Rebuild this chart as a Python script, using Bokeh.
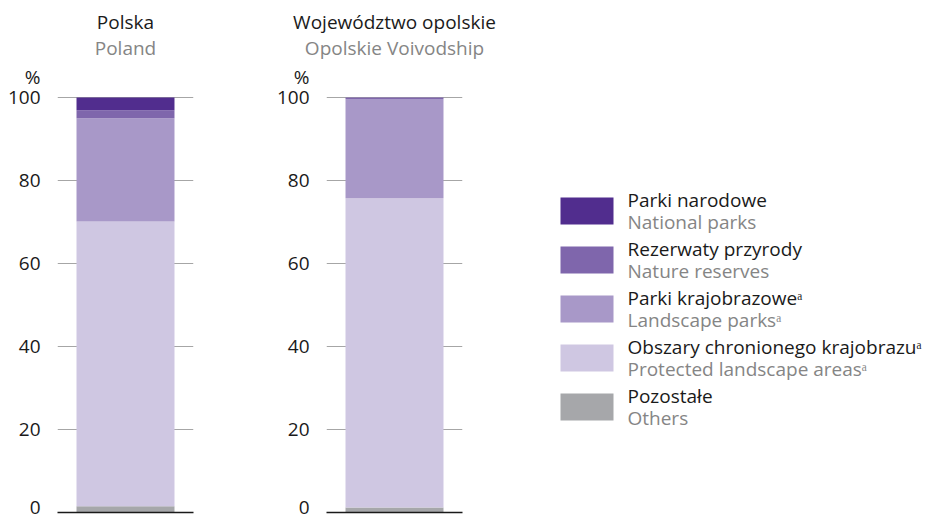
from bokeh.plotting import figure
from bokeh.models import ColumnDataSource, Range1d, FixedTicker, Title
from bokeh.layouts import row
from bokeh.core.properties import value
from bokeh.embed import file_html
from bokeh.resources import INLINE

# ---- data ----
categories_pl = ["Parki narodowe", "Rezerwaty przyrody", "Parki krajobrazowe\u1d43",
                 "Obszary chronionego krajobrazu\u1d43", "Pozostałe"]
categories_en = ["National parks", "Nature reserves", "Landscape parks\u1d43",
                 "Protected landscape areas\u1d43", "Others"]
poland = [3.1, 1.9, 24.9, 68.6, 1.5]
opolskie = [0.0, 0.4, 23.9, 74.5, 1.2]
colors = ["#512d8e", "#7f66ac", "#a898c8", "#cfc7e2", "#a6a7aa"]
y_ticks = [0, 20, 40, 60, 80, 100]
unit_label = "%"

FONT = "Open Sans"
DARK = "#1a1a1a"
GREY = "#858585"
FS = "19px"
H = 519
TOP = 60
BOTTOM = 7


def bar_fig(vals, title_pl, title_en, width, left, right):
    p = figure(width=width, height=H, x_range=Range1d(-0.694, 0.694),
               y_range=Range1d(0, 108.9), output_backend="svg", toolbar_location=None,
               title_location=None, min_border_left=left, min_border_right=right,
               min_border_top=TOP, min_border_bottom=BOTTOM)
    keys = ["s%d" % i for i in range(len(vals))]
    data = {"x": [0]}
    for k, v in zip(keys, vals):
        data[k] = [v]
    src = ColumnDataSource(data)
    # stack from bottom: reversed order
    p.vbar_stack(list(reversed(keys)), x="x", width=1.0, source=src,
                 color=list(reversed(colors)), line_width=0)
    p.yaxis.ticker = FixedTicker(ticks=y_ticks + [105])
    p.yaxis.major_label_overrides = {105: unit_label}
    p.yaxis.axis_line_color = None
    p.yaxis.major_tick_line_color = None
    p.yaxis.minor_tick_line_color = None
    p.yaxis.major_tick_in = 0
    p.yaxis.major_tick_out = 0
    p.yaxis.major_label_standoff = 17
    p.yaxis.major_label_text_font = FONT
    p.yaxis.major_label_text_font_size = FS
    p.yaxis.major_label_text_color = DARK
    p.xaxis.ticker = FixedTicker(ticks=[])
    p.xaxis.major_tick_line_color = None
    p.xaxis.minor_tick_line_color = None
    p.xaxis.major_label_text_font_size = "0px"
    p.xaxis.axis_line_color = DARK
    p.xaxis.axis_line_width = 1.5
    p.xgrid.visible = False
    p.ygrid.ticker = FixedTicker(ticks=y_ticks[1:])
    p.ygrid.grid_line_color = "#a6a6a6"
    p.ygrid.grid_line_width = 1
    p.outline_line_color = None
    p.add_layout(Title(text=title_en, text_color=GREY, text_font=FONT, text_font_size=FS,
                       text_font_style="normal", align="center", standoff=0), "above")
    p.add_layout(Title(text=title_pl, text_color=DARK, text_font=FONT, text_font_size=FS,
                       text_font_style="normal", align="center", standoff=-4), "above")
    return p


pA = bar_fig(poland, "Polska", "Poland", 268, 57, 75)
pB = bar_fig(opolskie, "Województwo opolskie", "Opolskie Voivodship", 252, 58, 58)

# legend figure (y in page pixels, frame aligned with the bar frames)
LW = 410
pC = figure(width=LW, height=H, x_range=Range1d(0, LW), y_range=Range1d(H - BOTTOM, TOP),
            output_backend="svg", toolbar_location=None, title_location=None,
            x_axis_location=None, y_axis_location=None,
            min_border_left=0, min_border_right=0, min_border_top=TOP, min_border_bottom=BOTTOM)
pC.grid.visible = False
pC.outline_line_color = None
n = len(categories_pl)
idx = list(range(n))
lsrc = ColumnDataSource(dict(
    sx=[66.5] * n,
    sy=[210.5 + 49 * i for i in idx],
    tx=[107] * n,
    ty1=[199 + 49 * i for i in idx],
    ty2=[221 + 49 * i for i in idx],
    pl=categories_pl, en=categories_en, c=colors))
pC.rect(x="sx", y="sy", width=53, height=27, fill_color="c", line_color=None, source=lsrc)
pC.text(x="tx", y="ty1", text="pl", text_font=value(FONT), text_font_size=value(FS),
        text_color=DARK, text_baseline="alphabetic", source=lsrc)
pC.text(x="tx", y="ty2", text="en", text_font=value(FONT), text_font_size=value(FS),
        text_color=GREY, text_baseline="alphabetic", source=lsrc)

layout = row(pA, pB, pC)
open("out.html", "w").write(file_html(layout, INLINE))
